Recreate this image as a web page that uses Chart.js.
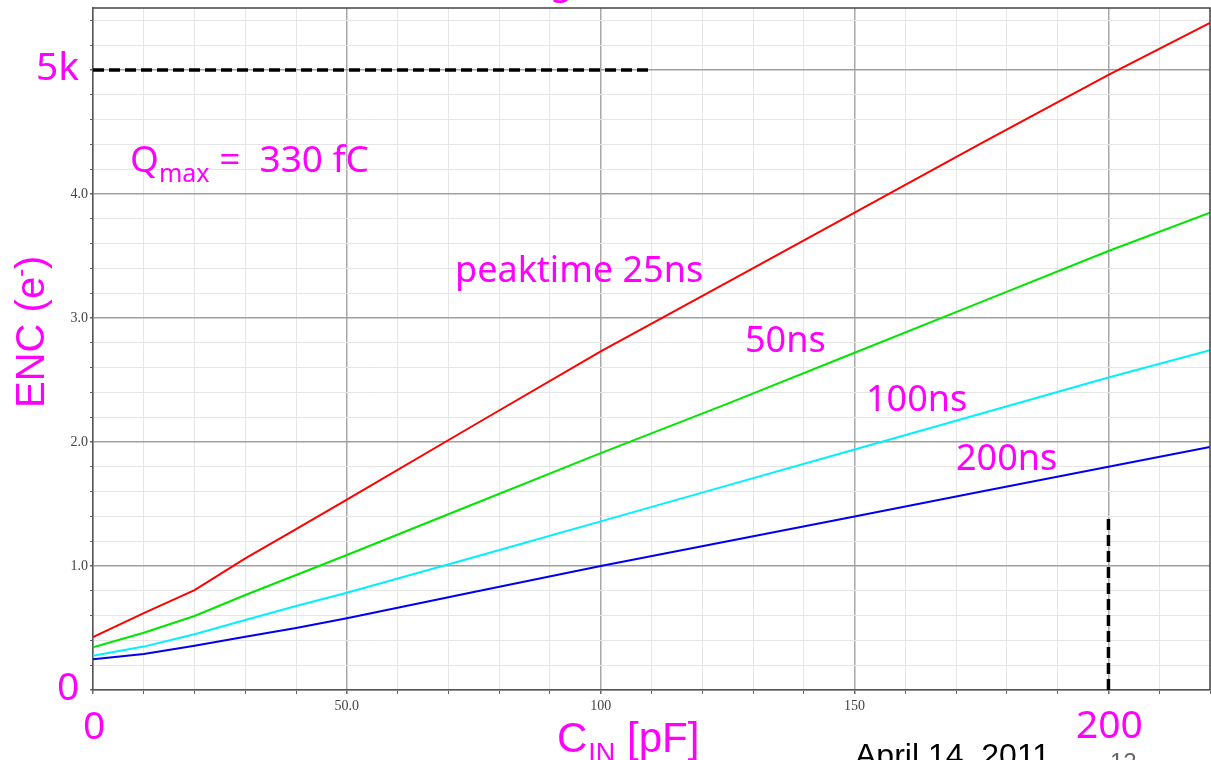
<!DOCTYPE html>
<html>
<head>
<meta charset="utf-8">
<script src="https://cdn.jsdelivr.net/npm/chart.js@4.4.1/dist/chart.umd.min.js"></script>
<style>
  html, body { margin: 0; padding: 0; background: #fff; }
  #wrap { width: 1211px; height: 760px; }
</style>
</head>
<body>
<div id="wrap"><canvas id="encChart" width="1211" height="760"></canvas></div>
<script>
// ENC vs input capacitance, one curve per peaking time
const cin = [0, 10, 20, 30, 40, 50, 75, 100, 125, 150, 175, 200, 220];
const enc25ns  = [0.427, 0.62, 0.806, 1.062, 1.298, 1.535, 2.135, 2.73, 3.29, 3.85, 4.41, 4.96, 5.38];
const enc50ns  = [0.345, 0.462, 0.597, 0.766, 0.927, 1.089, 1.50, 1.91, 2.31, 2.72, 3.13, 3.54, 3.85];
const enc100ns = [0.277, 0.35, 0.45, 0.565, 0.677, 0.785, 1.07, 1.36, 1.65, 1.94, 2.23, 2.52, 2.74];
const enc200ns = [0.247, 0.29, 0.357, 0.43, 0.50, 0.578, 0.79, 1.0, 1.20, 1.40, 1.60, 1.80, 1.96];

// dashed limit lines
const limitHx = [0, 110];
const limitHy = [5, 5];
const limitVx = [200, 200];
const limitVy = [0, 1.42];

// tick labels
const xLabelValues = [50, 100, 150];
const xLabelTexts = ['50.0', '100', '150'];
const yLabelValues = [1, 2, 3, 4];
const yLabelTexts = ['1.0', '2.0', '3.0', '4.0'];

function toPoints(xs, ys) {
    return xs.map((x, i) => ({ x: x, y: ys[i] }));
}

function curve(label, values, color) {
    return {
        label: label,
        data: toPoints(cin, values),
        borderColor: color,
        borderWidth: 2,
        pointRadius: 0,
        tension: 0,
        fill: false
    };
}

function dashed(xs, ys) {
    return {
        data: toPoints(xs, ys),
        borderColor: '#000',
        borderWidth: 3.5,
        borderDash: [11, 5],
        pointRadius: 0,
        fill: false
    };
}

const MAGENTA = '#ff00ff';

// extra text drawn on top of the chart
const overlayPlugin = {
    id: 'overlay',
    afterDraw(chart) {
        const c = chart.ctx;
        const a = chart.chartArea;
        c.save();
        // top and right frame
        c.strokeStyle = '#444';
        c.lineWidth = 1.5;
        c.beginPath();
        c.moveTo(a.left, a.top);
        c.lineTo(a.right, a.top);
        c.lineTo(a.right, a.bottom);
        c.stroke();

        c.fillStyle = MAGENTA;
        c.textBaseline = 'alphabetic';
        c.textAlign = 'left';

        c.font = '39px "Noto Sans"';
        c.fillText('5k', 36, 80);
        c.fillText('0', 57, 700);
        c.fillText('0', 83, 739);
        c.fillText('200', 1076, 738);

        // Q max
        c.font = '37px "Noto Sans"';
        c.fillText('Q', 130, 172);
        let w = c.measureText('Q').width;
        c.font = '25px "Noto Sans"';
        c.fillText('max', 130 + w, 182);
        w += c.measureText('max').width;
        c.font = '37px "Noto Sans"';
        c.fillText(' =  330 fC', 130 + w, 172);

        c.font = '36px "Noto Sans"';
        c.fillText('peaktime 25ns', 455, 282);
        c.fillText('50ns', 745, 352);
        c.fillText('100ns', 866, 411);
        c.fillText('200ns', 956, 470);

        // partial title at the very top
        c.fillText('g', 550, -6);

        // x axis title
        c.font = '42px "Liberation Sans"';
        c.fillText('C', 557, 752);
        let cw = c.measureText('C').width;
        c.font = '27px "Liberation Sans"';
        c.fillText('IN', 557 + cw + 1, 762);
        cw += c.measureText('IN').width + 1;
        c.font = '42px "Liberation Sans"';
        c.fillText(' [pF]', 557 + cw, 752);

        // y axis title (rotated)
        c.save();
        c.translate(44, 408);
        c.rotate(-Math.PI / 2);
        c.font = '40px "Liberation Sans"';
        c.fillText('ENC (e', 0, 0);
        let ew = c.measureText('ENC (e').width;
        c.font = '24px "Liberation Sans"';
        c.fillText('-', ew, -16);
        ew += c.measureText('-').width;
        c.font = '40px "Liberation Sans"';
        c.fillText(')', ew, 0);
        c.restore();

        // slide footer
        c.fillStyle = '#000';
        c.font = '32px "Liberation Sans"';
        c.fillText('April 14, 2011', 855, 766);
        c.fillStyle = '#666';
        c.font = '24px "Liberation Sans"';
        c.fillText('12', 1110, 770);
        c.restore();
    }
};

function isMajor(v, step) {
    const r = v / step;
    return Math.abs(r - Math.round(r)) < 1e-6;
}

const ctx = document.getElementById('encChart').getContext('2d');
const encChart = new Chart(ctx, {
    type: 'line',
    data: {
        datasets: [
            dashed(limitHx, limitHy),
            dashed(limitVx, limitVy),
            curve('25ns', enc25ns, '#ff0000'),
            curve('50ns', enc50ns, '#00e600'),
            curve('100ns', enc100ns, '#00f0ff'),
            curve('200ns', enc200ns, '#0000ee')
        ]
    },
    options: {
        responsive: false,
        animation: false,
        layout: { padding: { top: 8, right: 1, left: 0, bottom: 0 } },
        plugins: {
            legend: { display: false },
            tooltip: { enabled: false }
        },
        scales: {
            x: {
                type: 'linear',
                min: 0,
                max: 220,
                afterFit(scale) {
                    scale.height = 70;
                    scale.paddingLeft = 0;
                    scale.paddingRight = 0;
                },
                border: { color: '#555', width: 1.5 },
                grid: {
                    color: (c) => isMajor(c.tick.value, 50) ? '#a8a8a8' : '#e6e6e6',
                    lineWidth: (c) => isMajor(c.tick.value, 50) ? 1.5 : 1,
                    tickLength: 4,
                    tickColor: '#666'
                },
                ticks: {
                    stepSize: 10,
                    autoSkip: false,
                    maxRotation: 0,
                    padding: 4,
                    color: '#444',
                    font: { family: '"Liberation Serif"', size: 14 },
                    callback: (v) => {
                        const i = xLabelValues.indexOf(v);
                        return i >= 0 ? xLabelTexts[i] : '';
                    }
                }
            },
            y: {
                type: 'linear',
                min: 0,
                max: 5.5,
                afterFit(scale) {
                    scale.width = 93;
                    scale.paddingTop = 0;
                    scale.paddingBottom = 0;
                },
                border: { color: '#555', width: 1.5 },
                grid: {
                    color: (c) => isMajor(c.tick.value, 1) ? '#a0a0a0' : '#e6e6e6',
                    lineWidth: (c) => isMajor(c.tick.value, 1) ? 1.5 : 1,
                    tickLength: 3,
                    tickColor: '#666'
                },
                ticks: {
                    stepSize: 0.2,
                    includeBounds: false,
                    autoSkip: false,
                    padding: 2,
                    color: '#444',
                    font: { family: '"Liberation Serif"', size: 14 },
                    callback: (v) => {
                        const i = yLabelValues.findIndex((t) => Math.abs(t - v) < 1e-6);
                        return i >= 0 ? yLabelTexts[i] : '';
                    }
                }
            }
        }
    },
    plugins: [overlayPlugin]
});
</script>
</body>
</html>
